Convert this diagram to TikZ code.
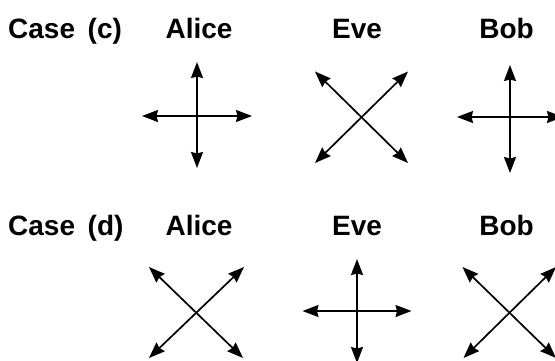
\documentclass[tikz,border=0pt]{standalone}
\usepackage{fontspec}
\setmainfont{Liberation Sans}
\usetikzlibrary{arrows.meta,calc}
\begin{document}
\begin{tikzpicture}[x=1pt,y=-1pt,
  lbl/.style={font=\fontsize{28}{32}\selectfont\bfseries, inner sep=0pt, anchor=base},
  arr/.style={line width=1.7pt,
    {Stealth[length=16pt,width=12pt,inset=1.5pt]}-{Stealth[length=16pt,width=12pt,inset=1.5pt]}}]
\clip (0,0) rectangle (555,360);
\useasboundingbox (0,0) rectangle (555,360);
% labels row 1
\node[lbl, anchor=base west] (casec) at (8,38) {Case\hspace{0.45em}(c)};
\node[lbl] (alicec) at (199,38) {Alice};
\node[lbl] (evec) at (357,38) {Eve};
\node[lbl] (bobc) at (506.5,38) {Bob};
% labels row 2
\node[lbl, anchor=base west] (cased) at (8,235) {Case\hspace{0.45em}(d)};
\node[lbl] (aliced) at (199,235) {Alice};
\node[lbl] (eved) at (357,235) {Eve};
\node[lbl] (bobd) at (506.5,235) {Bob};
% centres
\coordinate (ac) at (197,116);
\coordinate (ec) at (362,117);
\coordinate (bc) at (510,117);
\coordinate (ad) at (196.5,312.5);
\coordinate (ed) at (357,311);
\coordinate (bd) at (509,312);
% row 1
\draw[arr] ($(ac)+(0,-54)$) -- ($(ac)+(0,52)$);
\draw[arr] ($(ac)+(-55,0)$) -- ($(ac)+(55,0)$);
\draw[arr] ($(ec)+(-47,-45.5)$) -- ($(ec)+(46,46)$);
\draw[arr] ($(ec)+(46,-45.5)$) -- ($(ec)+(-47,46)$);
\draw[arr] ($(bc)+(0,-52)$) -- ($(bc)+(0,56)$);
\draw[arr] ($(bc)+(-53,0)$) -- ($(bc)+(53,0)$);
% row 2
\draw[arr] ($(ad)+(-47.5,-45.5)$) -- ($(ad)+(46.5,45.5)$);
\draw[arr] ($(ad)+(47.5,-45.5)$) -- ($(ad)+(-47.5,45.5)$);
\draw[arr] ($(ed)+(0,-52)$) -- ($(ed)+(0,52)$);
\draw[arr] ($(ed)+(-54.5,0)$) -- ($(ed)+(54.5,0)$);
\draw[arr] ($(bd)+(-46.5,-45)$) -- ($(bd)+(47,46)$);
\draw[arr] ($(bd)+(47,-45)$) -- ($(bd)+(-45.5,46)$);
\end{tikzpicture}
\end{document}
